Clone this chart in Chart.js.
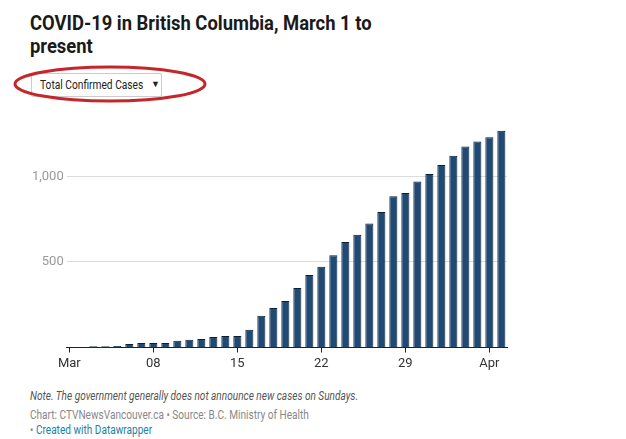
<!DOCTYPE html>
<html>
<head>
<meta charset="utf-8">
<script src="https://cdn.jsdelivr.net/npm/chart.js@4.4.1/dist/chart.umd.min.js"></script>
<style>
  html, body { margin: 0; padding: 0; background: #fff; }
  body { width: 626px; height: 439px; position: relative; overflow: hidden; font-family: Roboto, "Noto Sans", sans-serif; }
  .sq { white-space: nowrap; transform-origin: 0 0; }
  #title { position: absolute; left: 30px; top: 12px; font-size: 20px; font-weight: 700; color: #1a1a1a; line-height: 23px; transform: scaleX(0.92); }
  #select { position: absolute; left: 31px; top: 73px; width: 131px; height: 24px; border: 1px solid #ccc; border-radius: 2px; box-sizing: border-box; font-size: 12px; color: #222; }
  #select span { position: absolute; left: 8px; top: 4px; transform: scaleX(0.85); }
  #select b { position: absolute; left: 119px; top: 5px; font-size: 9px; }
  #ring { position: absolute; left: 0; top: 0; }
  #chartBox { position: absolute; left: 0; top: 120px; width: 626px; height: 260px; }
  #note { position: absolute; left: 30px; top: 389px; font-size: 12px; font-style: italic; color: #555; transform: scaleX(0.84); }
  #src { position: absolute; left: 30px; top: 408px; font-size: 12px; color: #888; transform: scaleX(0.84); }
  #dw { position: absolute; left: 30px; top: 423px; font-size: 12px; color: #888; transform: scaleX(0.84); }
  #dw a { color: #1d81a2; text-decoration: none; }
</style>
</head>
<body>
<div id="title" class="sq">COVID-19 in British Columbia, March 1 to<br>present</div>
<div id="select"><span class="sq">Total Confirmed Cases</span><b>&#9660;</b></div>
<svg id="ring" width="626" height="120"><ellipse cx="110" cy="84" rx="95" ry="17" fill="none" stroke="#c4262b" stroke-width="3"/></svg>
<div id="chartBox"><canvas id="barChart"></canvas></div>
<div id="note" class="sq">Note. The government generally does not announce new cases on Sundays.</div>
<div id="src" class="sq">Chart: CTVNewsVancouver.ca &bull; Source: B.C. Ministry of Health</div>
<div id="dw" class="sq">&bull; <a>Created with Datawrapper</a></div>
<script>
// day numbers counted from March 1 (Apr 1 = 32)
const days = [3, 4, 5, 6, 7, 8, 9, 10, 11, 12, 13, 14, 15, 16, 17, 18, 19, 20, 21, 22,
  23, 24, 25, 26, 27, 28, 29, 30, 31, 32, 33, 34, 35, 36, 37];
const cases = [8, 8, 9, 21, 27, 27, 27, 39, 45, 50, 61, 67, 67, 103, 186, 231, 271, 348, 424, 472,
  539, 617, 659, 725, 792, 884, 902, 970, 1013, 1066, 1121, 1174, 1203, 1229, 1266];

const tickDays = [1, 8, 15, 22, 29, 36];
const tickLabels = ['Mar', '08', '15', '22', '29', 'Apr'];
const yTicks = [500, 1000];

const points = days.map((d, i) => ({ x: d, y: cases[i] }));

new Chart(document.getElementById('barChart').getContext('2d'), {
  type: 'bar',
  data: {
    datasets: [{
      label: 'Total Confirmed Cases',
      data: points,
      backgroundColor: '#1f4a73',
      borderColor: '#0d1f33',
      borderWidth: 1,
      borderSkipped: 'bottom',
      barPercentage: 0.67,
      categoryPercentage: 1
    }]
  },
  options: {
    responsive: true,
    maintainAspectRatio: false,
    animation: false,
    layout: { padding: { top: 5, right: 119, left: 0, bottom: 0 } },
    plugins: { legend: { display: false }, tooltip: { enabled: false } },
    scales: {
      x: {
        type: 'linear',
        offset: false,
        min: 0.78,
        max: 37.47,
        afterFit: function (scale) {
          scale.height = 32.5;
          scale.paddingLeft = 0;
          scale.paddingRight = 0;
        },
        afterBuildTicks: function (scale) {
          scale.ticks = tickDays.map(v => ({ value: v }));
        },
        ticks: {
          autoSkip: false,
          maxRotation: 0,
          padding: 3,
          color: '#333',
          font: { family: 'Roboto', size: 13 },
          callback: function (value) {
            const i = tickDays.indexOf(value);
            return i >= 0 ? tickLabels[i] : '';
          }
        },
        grid: { offset: false, drawOnChartArea: false, drawTicks: true, tickLength: 5, color: '#222' },
        border: { display: true, color: '#222', width: 1 }
      },
      y: {
        min: 0,
        max: 1300,
        afterFit: function (scale) {
          scale.width = 66.7;
          scale.paddingTop = 0;
          scale.paddingBottom = 0;
        },
        afterBuildTicks: function (scale) {
          scale.ticks = yTicks.map(v => ({ value: v }));
        },
        ticks: {
          padding: 3,
          color: '#999',
          font: { family: 'Roboto', size: 13 },
          callback: function (value) { return value.toLocaleString('en-US'); }
        },
        grid: { color: '#dcdcdc', lineWidth: 1, drawTicks: false },
        border: { display: false }
      }
    }
  }
});
</script>
</body>
</html>
